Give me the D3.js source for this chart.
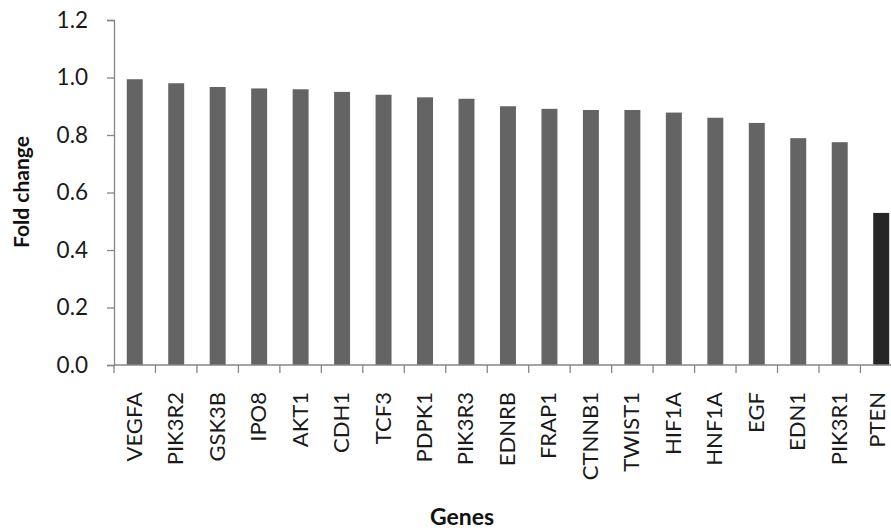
<!DOCTYPE html>
<html>
<head>
<meta charset="utf-8">
<script src="https://cdn.jsdelivr.net/npm/d3@7"></script>
<style>
  body { margin: 0; background: #fff; }
  svg { display: block; }
</style>
</head>
<body>
<svg id="chart" width="891" height="530"></svg>
<script>
const genes = ["VEGFA","PIK3R2","GSK3B","IPO8","AKT1","CDH1","TCF3","PDPK1","PIK3R3","EDNRB","FRAP1","CTNNB1","TWIST1","HIF1A","HNF1A","EGF","EDN1","PIK3R1","PTEN"];
const foldChange = [0.994,0.980,0.967,0.962,0.959,0.950,0.940,0.931,0.926,0.900,0.891,0.887,0.887,0.878,0.860,0.842,0.789,0.775,0.529];
const yTicks = [0.0,0.2,0.4,0.6,0.8,1.0,1.2];
const highlight = ["PTEN"];

const svg = d3.select("#chart");
const W = 891;
const m = {left: 114, top: 20, bottom: 365};
const bandStep = 41.47;
const x = d3.scaleBand().domain(genes).range([m.left, m.left + bandStep * genes.length]).padding(0);
const y = d3.scaleLinear().domain([0, 1.2]).range([m.bottom, m.top]);

const font = "Lato, 'Open Sans', sans-serif";
const axisColor = "#868686";

// bars
const bw = x.bandwidth() * 0.385;
svg.append("g").selectAll("rect").data(genes).join("rect")
  .attr("x", (d) => x(d) + (x.bandwidth() - bw) / 2)
  .attr("y", (d, i) => y(foldChange[i]))
  .attr("width", bw)
  .attr("height", (d, i) => y(0) - y(foldChange[i]))
  .attr("fill", (d) => highlight.includes(d) ? "#262626" : "#646464");

// y axis
const yAxis = svg.append("g").attr("transform", `translate(${m.left},0)`)
  .call(d3.axisLeft(y).tickValues(yTicks).tickFormat(d3.format(".1f")).tickSize(7).tickPadding(19));
yAxis.select(".domain").attr("stroke", axisColor).attr("stroke-width", 1.3);
yAxis.selectAll(".tick line").attr("stroke", axisColor).attr("stroke-width", 1.3);
yAxis.selectAll(".tick text").attr("font-family", font).attr("font-size", 22.5).attr("fill", "#1a1a1a");

// x axis line + boundary ticks
const xg = svg.append("g");
xg.append("line").attr("x1", m.left).attr("x2", W).attr("y1", y(0)).attr("y2", y(0))
  .attr("stroke", axisColor).attr("stroke-width", 1.3);
xg.selectAll("line.tk").data(genes).join("line").attr("class", "tk")
  .attr("x1", (d) => x(d)).attr("x2", (d) => x(d))
  .attr("y1", y(0)).attr("y2", y(0) + 8)
  .attr("stroke", axisColor).attr("stroke-width", 1.3);

// category labels (kept inside the canvas at the right edge)
xg.selectAll("text").data(genes).join("text")
  .attr("transform", (d) => `translate(${Math.min(x(d) + x.bandwidth() / 2 + 7, W - 6)},${y(0) + 27}) rotate(-90)`)
  .attr("text-anchor", "end")
  .attr("font-family", font).attr("font-size", 22).attr("fill", "#1a1a1a")
  .text((d) => d);

// axis titles
svg.append("text")
  .attr("transform", "translate(29,192) rotate(-90)")
  .attr("text-anchor", "middle")
  .attr("font-family", font).attr("font-size", 21).attr("font-weight", "bold").attr("fill", "#111")
  .text("Fold change");

svg.append("text")
  .attr("x", 462).attr("y", 525)
  .attr("text-anchor", "middle")
  .attr("font-family", font).attr("font-size", 23).attr("font-weight", "bold").attr("fill", "#111")
  .text("Genes");
</script>
</body>
</html>
